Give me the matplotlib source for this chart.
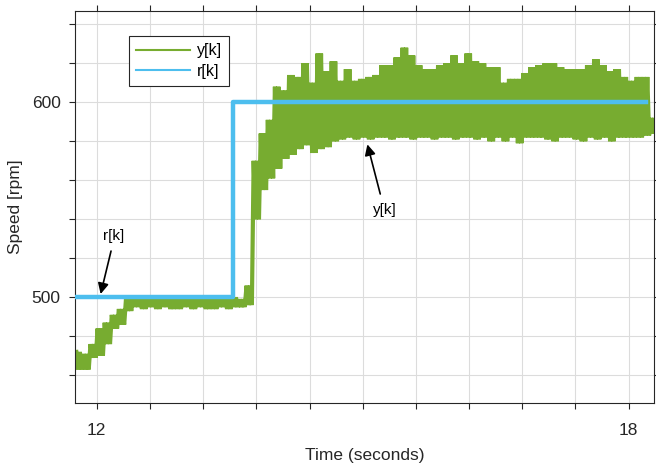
import matplotlib
matplotlib.use("Agg")
import matplotlib.pyplot as plt
from matplotlib.lines import Line2D
import numpy as np

plt.rcParams['font.family'] = ['Liberation Sans', 'DejaVu Sans']

# measured speed y[k]: upper / lower value of the oscillation, one pair per 0.08 s block
t_start = 11.77
dt = 0.02
y_hi = [472, 471, 476, 484, 487, 491, 494, 499,
        501, 501, 500, 501, 501, 500, 501, 501, 500, 501, 500, 501, 500, 501, 500, 499,
        506, 570, 584, 591, 608, 606, 614, 613, 620, 610, 625, 616, 621, 611, 617, 611,
        612, 613, 614, 619, 619, 623, 628, 624, 619, 617,
        617, 619, 620, 624, 620, 625, 621, 620, 618, 618,
        610, 612, 612, 615, 618, 619, 620, 620, 618, 617,
        617, 617, 619, 622, 619, 616, 617, 613, 611, 613,
        613, 592]
y_lo = [463, 463, 469, 470, 476, 484, 486, 493,
        495, 494, 495, 494, 495, 494, 494, 495, 494, 495, 494, 494, 495, 494, 495, 495,
        496, 540, 555, 561, 566, 571, 573, 576, 578, 574, 576, 577, 580, 581, 582, 581,
        582, 581, 582, 582, 581, 582, 582, 581, 582, 582,
        581, 582, 582, 581, 582, 582, 581, 582, 580, 582,
        580, 582, 579, 582, 582, 582, 581, 580, 582, 582,
        581, 580, 582, 581, 582, 580, 582, 582, 582, 582,
        583, 584]

# reference r[k]
r_time = [11.77, 13.54, 18.2]
r_vals = [500, 600, 600]

green = '#77AC30'
blue = '#4DBEEE'

hi = np.array(y_hi, dtype=float)
lo = np.array(y_lo, dtype=float)
y = np.column_stack([hi, lo, hi, lo]).ravel()
t = t_start + dt * np.arange(len(y))

fig = plt.figure(figsize=(6.56, 4.65), dpi=100)
ax = fig.add_axes([0.1143, 0.1333, 0.8826, 0.8430])

ax.plot(t, y, color=green, lw=3.0, solid_joinstyle='miter', zorder=2)
ax.plot(r_time, r_vals, color=blue, lw=3.2, drawstyle='steps-post', zorder=3)

ax.set_xlim(11.755, 18.285)
ax.set_ylim(445.8, 646.8)

xt = np.round(np.arange(12, 18.01, 0.6), 1)
ax.set_xticks(xt)
ax.set_xticklabels(['12' if v == 12 else '18' if v == 18 else '' for v in xt])
yt = np.arange(460, 641, 20)
ax.set_yticks(yt)
ax.set_yticklabels([str(v) if v in (500, 600) else '' for v in yt])

ax.tick_params(direction='out', length=4.3, width=0.8, colors='#262626',
               labelsize=12.5, top=True, right=True, labelcolor='#262626')
ax.tick_params(axis='x', pad=10)
ax.tick_params(axis='y', pad=6)
for s in ax.spines.values():
    s.set_color('#262626')
    s.set_linewidth(0.8)
ax.grid(True, color='#dcdcdc', lw=0.8)
ax.set_axisbelow(True)

ax.set_xlabel('Time (seconds)', fontsize=12.5, color='#262626', labelpad=7)
ax.set_ylabel('Speed [rpm]', fontsize=12.5, color='#262626', labelpad=6)

handles = [Line2D([], [], color=green, lw=1.5), Line2D([], [], color=blue, lw=1.5)]
leg = ax.legend(handles, ['y[k]', 'r[k]'], loc='upper left', bbox_to_anchor=(0.0933, 0.936),
                borderaxespad=0, fancybox=False, framealpha=1, edgecolor='#262626',
                fontsize=11.5, handlelength=3.4, handletextpad=0.4, labelspacing=0.35,
                borderpad=0.45)
leg.get_frame().set_linewidth(0.8)

ax.annotate('', xy=(12.037, 500.3), xytext=(12.169, 525.1),
            arrowprops=dict(arrowstyle='-|>', color='k', lw=1.2, mutation_scale=16))
ax.text(12.195, 531.2, 'r[k]', fontsize=11, ha='center', va='center')
ax.annotate('', xy=(15.045, 579.8), xytext=(15.206, 551.6),
            arrowprops=dict(arrowstyle='-|>', color='k', lw=1.2, mutation_scale=16))
ax.text(15.25, 544.8, 'y[k]', fontsize=11, ha='center', va='center')

fig.savefig('out.png', dpi=100)
